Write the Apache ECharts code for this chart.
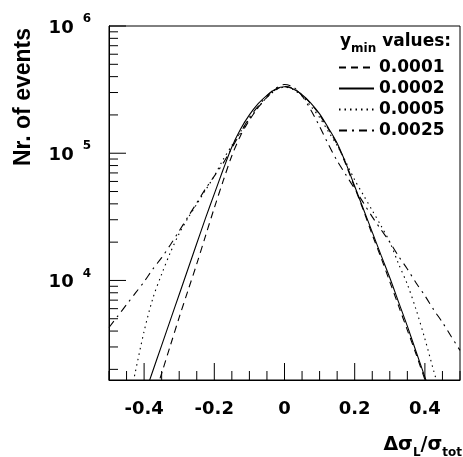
<!DOCTYPE html>
<html>
<head>
<meta charset="utf-8">
<script src="https://cdn.jsdelivr.net/npm/echarts@6/dist/echarts.min.js"></script>
<style>
  html, body { margin: 0; padding: 0; background: #fff; }
  #chart { width: 463px; height: 457px; }
</style>
</head>
<body>
<div id="chart"></div>
<script>
// x positions (delta sigma_L / sigma_tot)
var xVals = [-0.5, -0.475, -0.45, -0.425, -0.4, -0.375, -0.35, -0.325, -0.3, -0.275,
  -0.25, -0.225, -0.2, -0.175, -0.15, -0.125, -0.1, -0.075, -0.05, -0.025,
  0, 0.025, 0.05, 0.075, 0.1, 0.125, 0.15, 0.175, 0.2, 0.225,
  0.25, 0.275, 0.3, 0.325, 0.35, 0.375, 0.4, 0.425, 0.45, 0.475, 0.5];

// events per y_min value
var ymin0001 = [null, null, null, null, null, 1120, 1860, 3090, 5130, 8320,
  13500, 22400, 37200, 60300, 95500, 138000, 182000, 229000, 275000, 316000,
  335000, 324000, 288000, 245000, 200000, 155000, 117500, 81300, 53700, 35500,
  22900, 15100, 9770, 6310, 4070, 2630, 1660, 1050, null, null, null];
var ymin0002 = [null, null, null, null, 1230, 1950, 3090, 4900, 7760, 12300,
  19500, 30900, 47900, 74100, 112000, 155000, 200000, 245000, 285000, 320000,
  333000, 320000, 288000, 248000, 204000, 158000, 120000, 83200, 55000, 36300,
  24000, 15800, 10500, 6760, 4370, 2750, 1740, 1100, null, null, null];
var ymin0005 = [null, null, 891, 1905, 3980, 7240, 11200, 16600, 23400, 30900,
  39800, 51300, 66100, 89100, 115000, 148000, 186000, 229000, 275000, 313000,
  331000, 316000, 282000, 234000, 191000, 148000, 115000, 85100, 61700, 46800,
  35500, 26900, 20000, 13500, 9330, 5890, 3470, 1950, 1120, null, null];
var ymin0025 = [4270, 5250, 6460, 7940, 9770, 12300, 15100, 19100, 24500, 31600,
  40700, 52500, 66100, 83200, 110000, 145000, 191000, 234000, 282000, 324000,
  347000, 331000, 282000, 219000, 162000, 117500, 87100, 67600, 52500, 40700,
  31600, 25100, 20000, 15500, 12300, 9550, 7590, 5890, 4680, 3630, 2820];

var seriesNames = ['0.0001', '0.0002', '0.0005', '0.0025'];

// axis ticks
var xMajorTicks = [-0.4, -0.2, 0, 0.2, 0.4];
var xMinorTicks = [-0.5, -0.45, -0.35, -0.3, -0.25, -0.15, -0.1, -0.05,
  0.05, 0.1, 0.15, 0.25, 0.3, 0.35, 0.45, 0.5];
var yMajorTicks = [1e4, 1e5, 1e6];
var yMinorTicks = [];
[1e3, 1e4, 1e5].forEach(function(dec) {
  for (var m = 2; m <= 9; m++) {
    yMinorTicks.push(m * dec);
  }
});

var X_MIN = -0.5, X_MAX = 0.5, Y_MIN = 1650, Y_MAX = 1e6;
var FONT = 'DejaVu Sans';

function pairs(ys) {
  var out = [];
  ys.forEach(function(y, i) {
    if (y !== null) {
      out.push([xVals[i], y]);
    }
  });
  return out;
}

function lineSeries(name, ys, dash) {
  return {
    name: name,
    type: 'line',
    data: pairs(ys),
    symbol: 'none',
    smooth: 0.3,
    clip: true,
    silent: true,
    lineStyle: { color: '#000', width: 1.1, type: dash },
    itemStyle: { color: '#000' }
  };
}

function tickSeries(data, len, horizontal) {
  return {
    type: 'custom',
    silent: true,
    clip: false,
    data: data,
    renderItem: function(params, api) {
      var p = api.coord([api.value(0), api.value(1)]);
      var shape = horizontal
        ? { x1: p[0], y1: p[1], x2: p[0] + len, y2: p[1] }
        : { x1: p[0], y1: p[1], x2: p[0], y2: p[1] - len };
      return { type: 'line', shape: shape, style: { stroke: '#000', lineWidth: 1 } };
    }
  };
}

var chart = echarts.init(document.getElementById('chart'));

var option = {
  animation: false,
  backgroundColor: '#fff',
  grid: { left: 109, right: 2, top: 26, bottom: 77, show: true, borderColor: '#000', borderWidth: 1 },
  legend: {
    data: seriesNames,
    orient: 'vertical',
    left: 333,
    top: 54,
    itemWidth: 35,
    itemHeight: 14,
    itemGap: 4,
    selectedMode: false,
    itemStyle: { opacity: 0 },
    textStyle: { fontFamily: FONT, fontWeight: 'bold', fontSize: 17, color: '#000' }
  },
  xAxis: {
    type: 'value',
    min: X_MIN,
    max: X_MAX,
    interval: 0.1,
    axisLine: { onZero: false, lineStyle: { color: '#000', width: 1 } },
    axisTick: { show: false },
    splitLine: { show: false },
    axisLabel: {
      margin: 20,
      fontFamily: FONT,
      fontWeight: 'bold',
      fontSize: 18,
      color: '#000',
      formatter: function(v) {
        var r = Math.round(v * 10);
        if (r % 2 !== 0) return '';
        return String(r / 10);
      }
    }
  },
  yAxis: {
    type: 'log',
    logBase: 10,
    min: Y_MIN,
    max: Y_MAX,
    splitNumber: 3,
    axisLine: { onZero: false, lineStyle: { color: '#000', width: 1 } },
    axisTick: { show: false },
    splitLine: { show: false },
    axisLabel: {
      margin: 18,
      color: '#000',
      formatter: function(v) {
        var e = Math.log10(v);
        if (Math.abs(e - Math.round(e)) > 1e-6) return '';
        return '{b|10}{s|' + Math.round(e) + '}';
      },
      rich: {
        b: { fontFamily: FONT, fontWeight: 'bold', fontSize: 18, lineHeight: 26, padding: [4, 0, 0, 0], color: '#000' },
        s: { fontFamily: FONT, fontWeight: 'bold', fontSize: 12, lineHeight: 12, verticalAlign: 'top', padding: [0, 0, 0, 9], color: '#000' }
      }
    }
  },
  graphic: [
    {
      type: 'text',
      x: 24,
      y: 28,
      rotation: Math.PI / 2,
      style: {
        text: 'Nr. of events',
        font: 'bold 23px "Liberation Sans"',
        fill: '#000',
        align: 'right',
        verticalAlign: 'middle'
      }
    },
    {
      type: 'text',
      x: 462,
      y: 445,
      style: {
        text: '{m|\u0394\u03c3}{s|L}{m|/\u03c3}{s|tot}',
        align: 'right',
        verticalAlign: 'middle',
        rich: {
          m: { fontFamily: FONT, fontWeight: 'bold', fontSize: 19, lineHeight: 28, fill: '#000' },
          s: { fontFamily: FONT, fontWeight: 'bold', fontSize: 12, lineHeight: 12, verticalAlign: 'bottom', fill: '#000' }
        }
      }
    },
    {
      type: 'text',
      x: 340,
      y: 42,
      style: {
        text: '{m|y}{s|min}{m| values:}',
        align: 'left',
        verticalAlign: 'middle',
        rich: {
          m: { fontFamily: FONT, fontWeight: 'bold', fontSize: 17, lineHeight: 26, fill: '#000' },
          s: { fontFamily: FONT, fontWeight: 'bold', fontSize: 12, lineHeight: 12, verticalAlign: 'bottom', fill: '#000' }
        }
      }
    }
  ],
  series: [
    lineSeries(seriesNames[0], ymin0001, [7, 5]),
    lineSeries(seriesNames[1], ymin0002, 'solid'),
    lineSeries(seriesNames[2], ymin0005, [1.5, 4]),
    lineSeries(seriesNames[3], ymin0025, [8, 5, 2, 5]),
    tickSeries(xMajorTicks.map(function(v) { return [v, Y_MIN]; }), 17, false),
    tickSeries(xMinorTicks.map(function(v) { return [v, Y_MIN]; }), 9, false),
    tickSeries(yMajorTicks.map(function(v) { return [X_MIN, v]; }), 17, true),
    tickSeries(yMinorTicks.map(function(v) { return [X_MIN, v]; }), 9, true)
  ]
};

chart.setOption(option);
</script>
</body>
</html>
